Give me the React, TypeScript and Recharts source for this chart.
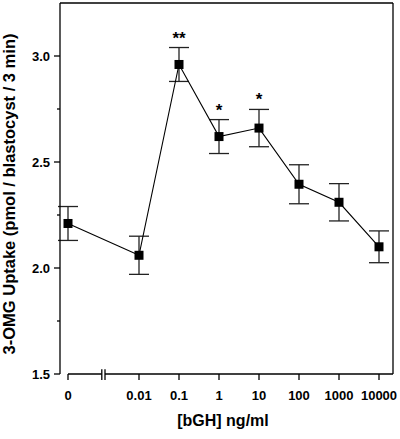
import { ComposedChart, Line, XAxis, YAxis, ErrorBar, ReferenceLine, LabelList } from 'recharts';

// bGH doses (ng/ml) and tick labels
const doses = [0, 0.01, 0.1, 1, 10, 100, 1000, 10000];
const doseLabels = ['0', '0.01', '0.1', '1', '10', '100', '1000', '10000'];
// 3-OMG uptake, mean and SEM
const uptake = [2.21, 2.06, 2.96, 2.62, 2.66, 2.395, 2.31, 2.1];
const sem = [0.08, 0.09, 0.08, 0.08, 0.088, 0.092, 0.088, 0.075];
const sig = ['', '', '**', '*', '*', '', '', ''];
const yTicks = [1.5, 1.75, 2.0, 2.25, 2.5, 2.75, 3.0];
const yMajor = [1.5, 2.0, 2.5, 3.0];

// log axis with the zero dose placed left of an axis break
const ZERO_POS = -1.775;
const X_MIN = -1.975;
const X_MAX = 6.35;
const Y_MIN = 1.5;
const Y_MAX = 3.25;
const toPos = (d: number) => (d === 0 ? ZERO_POS : Math.log10(d) + 2);

const data = doses.map((d, i) => ({
  pos: toPos(d),
  label: doseLabels[i],
  value: uptake[i],
  err: sem[i],
  top: uptake[i] + sem[i],
  sig: sig[i],
}));
const xTicks = doses.map(toPos);

const FONT = '"Liberation Sans", Arial, sans-serif';

const YTick = (props: any) => {
  const { x, y, payload } = props;
  const major = yMajor.includes(payload.value);
  return (
    <g>
      <line x1={x + (major ? 4 : 7)} x2={x + 10} y1={y} y2={y} stroke="#000" strokeWidth={1.3} />
      {major && (
        <text x={x} y={y} textAnchor="end" dominantBaseline="central" fontSize={13} fontWeight="bold" fontFamily={FONT} fill="#000">
          {payload.value.toFixed(1)}
        </text>
      )}
    </g>
  );
};

const Square = (props: any) => {
  const { cx, cy } = props;
  if (cx == null || cy == null) return null;
  return <rect x={cx - 4.5} y={cy - 4.5} width={9} height={9} fill="#000" />;
};

export default function App() {
  return (
    <div style={{ position: 'absolute', left: 0, top: 0, background: '#fff' }}>
      <ComposedChart width={400} height={439} data={data} margin={{ top: 3, right: 7, bottom: 35, left: 10 }}>
        <XAxis
          dataKey="pos"
          type="number"
          domain={[X_MIN, X_MAX]}
          ticks={xTicks}
          tickFormatter={(v: number) => doseLabels[xTicks.indexOf(v)] ?? ''}
          axisLine={false}
          tickLine={{ stroke: '#000', strokeWidth: 1.3 }}
          tickSize={6}
          tickMargin={11}
          height={30}
          tick={{ fill: '#000', fontSize: 13, fontWeight: 'bold', fontFamily: FONT }}
          interval={0}
          allowDataOverflow
        />
        <YAxis
          type="number"
          domain={[Y_MIN, Y_MAX]}
          ticks={yTicks}
          width={50}
          tick={<YTick />}
          tickLine={false}
          tickSize={6}
          tickMargin={4}
          axisLine={{ stroke: '#000', strokeWidth: 1.3 }}
          interval={0}
          allowDataOverflow
          label={{
            content: () => {
              const cx = 15;
              const cy = 194;
              return (
                <text x={cx} y={cy} transform={`rotate(-90, ${cx}, ${cy})`} textAnchor="middle" fontSize={16.5} fontWeight="bold" fontFamily={FONT} fill="#000">
                  3-OMG Uptake (pmol / blastocyst / 3 min)
                </text>
              );
            },
          }}
        />
        {/* frame: top and right */}
        <ReferenceLine y={Y_MAX} stroke="#000" strokeWidth={1.3} ifOverflow="visible" />
        <ReferenceLine x={X_MAX} stroke="#000" strokeWidth={1.3} ifOverflow="visible" />
        {/* broken x axis */}
        <ReferenceLine segment={[{ x: ZERO_POS, y: Y_MIN }, { x: -0.93, y: Y_MIN }]} stroke="#000" strokeWidth={1.3} ifOverflow="visible" />
        <ReferenceLine segment={[{ x: -0.85, y: Y_MIN }, { x: X_MAX, y: Y_MIN }]} stroke="#000" strokeWidth={1.3} ifOverflow="visible" />
        <ReferenceLine segment={[{ x: -0.93, y: 1.522 }, { x: -0.93, y: 1.472 }]} stroke="#000" strokeWidth={1.3} ifOverflow="visible" />
        <ReferenceLine segment={[{ x: -0.85, y: 1.522 }, { x: -0.85, y: 1.472 }]} stroke="#000" strokeWidth={1.3} ifOverflow="visible" />
        {/* significance markers above error bars */}
        <Line dataKey="top" stroke="none" dot={false} activeDot={false} isAnimationActive={false}>
          <LabelList dataKey="sig" position="top" offset={4} fill="#000" fontSize={17} fontWeight="bold" fontFamily={FONT} />
        </Line>
        <Line dataKey="value" stroke="#000" strokeWidth={1.1} dot={<Square />} activeDot={false} isAnimationActive={false}>
          <ErrorBar dataKey="err" direction="y" width={10} stroke="#222" strokeWidth={1.3} />
        </Line>
        <text x={223} y={426} textAnchor="middle" fontSize={16} fontWeight="bold" fontFamily={FONT} fill="#000">
          [bGH] ng/ml
        </text>
      </ComposedChart>
    </div>
  );
}
